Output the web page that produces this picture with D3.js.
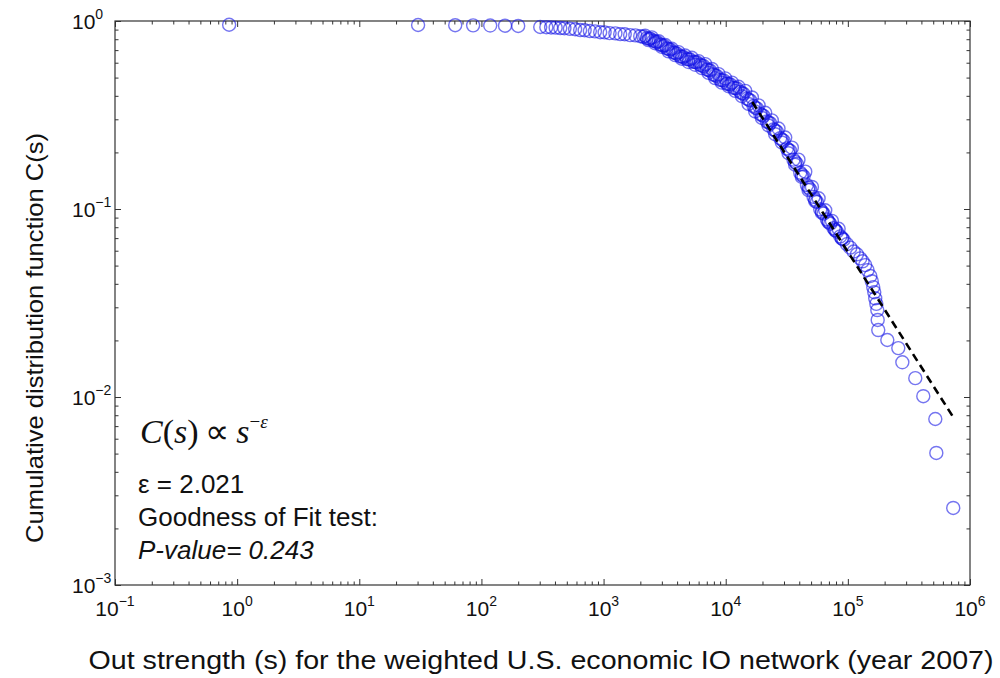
<!DOCTYPE html>
<html><head><meta charset="utf-8">
<script src="https://cdn.jsdelivr.net/npm/d3@7"></script>
<style>
body{margin:0;background:#fff}
svg{display:block}
text{font-family:"Liberation Sans",Arial,Helvetica,sans-serif;fill:#111}
</style>
</head><body>
<svg id="c" width="1000" height="678"></svg>
<script>
// ---- data ----
const strength = [0.86, 30.3, 61, 85.5, 118, 156, 200,
  303, 340, 372, 405, 442, 478, 530, 585, 643, 700, 772, 850, 938, 1020, 1120, 1250, 1368, 1490, 1650, 1820, 1995,
  2120, 2260, 2410, 2560, 2730, 2910, 3100, 3300, 3510, 3740, 3980, 4240, 4500, 4800, 5120, 5450, 5800, 6180,
  6590, 7020, 7460, 7950, 8470, 9020, 9610, 10230, 10890, 11600, 12350, 13150, 14000, 14920, 15880, 16900, 18000,
  19190, 20400, 21700, 23120, 24600, 26200, 27930, 29700, 31700, 33730, 35900, 38200, 40740, 43400, 46200, 49200,
  52400, 55800, 59430, 63300, 67400, 71780, 76400, 81400, 86700, 92300, 98300, 104700, 111500, 118700, 126200,
  132000, 138700, 145000, 152800, 157000, 161400, 164500, 167500, 171000, 174200, 175500, 177400, 210400, 258800,
  279300, 356500, 414600, 520000, 530000, 729000,
  2190, 2330, 2480, 2640, 2820, 3000, 3200, 3400, 3620, 3860, 4100, 4370, 4650, 4960, 5280, 5620, 5990, 6380,
  6800, 7240, 7700, 8200, 8740, 9300, 9900, 10550, 11240, 11970, 12740, 13570, 14450, 15390, 16380, 17440, 18580,
  19780, 21050, 22400, 23850, 25400, 27050, 28800, 30700, 32700, 34800, 37000, 39400, 42000, 44800, 47700, 50800,
  54100, 57600, 61300, 65300, 69500, 74000, 78900, 84000, 89500,
  2350, 2650, 2990, 3400, 3860, 4370, 4960, 5620, 6380, 7240, 8200, 9300, 10550, 11970, 13570, 15390, 17440,
  19780, 22400, 25400, 28800, 32700, 37000, 42000, 47700, 54100, 61300, 69500, 78900, 89500];
const cdf = [0.955, 0.952, 0.950, 0.948, 0.946, 0.944, 0.941,
  0.929, 0.927, 0.924, 0.922, 0.917, 0.915, 0.909, 0.904, 0.895, 0.893, 0.884, 0.881, 0.872, 0.870, 0.862, 0.859, 0.851, 0.850, 0.841, 0.839, 0.830,
  0.824, 0.810, 0.805, 0.785, 0.774, 0.751, 0.740, 0.715, 0.704, 0.680, 0.671, 0.648, 0.644, 0.627, 0.624, 0.606, 0.603, 0.585,
  0.576, 0.552, 0.545, 0.519, 0.510, 0.486, 0.483, 0.464, 0.460, 0.441, 0.438, 0.420, 0.410, 0.387, 0.378, 0.353, 0.343,
  0.320, 0.313, 0.292, 0.286, 0.265, 0.258, 0.238, 0.231, 0.210, 0.204, 0.183, 0.174, 0.156, 0.149, 0.134, 0.127,
  0.116, 0.109, 0.0995, 0.0945, 0.0880, 0.0835, 0.0790, 0.0757, 0.0715, 0.0686, 0.0650, 0.0623, 0.0594, 0.0574, 0.0546,
  0.0527, 0.0503, 0.0473, 0.0440, 0.0413, 0.0384, 0.0361, 0.0335, 0.0313, 0.0290, 0.0257, 0.0227, 0.0201, 0.0182,
  0.0153, 0.0126, 0.0101, 0.00764, 0.00504, 0.00257,
  0.835, 0.792, 0.818, 0.762, 0.781, 0.728, 0.745, 0.690, 0.712, 0.658, 0.683, 0.630, 0.655, 0.605, 0.637, 0.585, 0.612, 0.562,
  0.590, 0.530, 0.556, 0.497, 0.522, 0.470, 0.495, 0.450, 0.470, 0.425, 0.447, 0.398, 0.425, 0.362, 0.392, 0.330, 0.356,
  0.305, 0.325, 0.278, 0.296, 0.250, 0.268, 0.226, 0.240, 0.198, 0.212, 0.172, 0.183, 0.148, 0.158, 0.126, 0.131,
  0.110, 0.114, 0.0955, 0.0985, 0.0850, 0.0865, 0.0770, 0.0785, 0.0695,
  0.806, 0.778, 0.745, 0.711, 0.676, 0.646, 0.625, 0.604, 0.578, 0.547, 0.514, 0.484, 0.462, 0.439, 0.413, 0.382, 0.346,
  0.316, 0.289, 0.262, 0.234, 0.206, 0.178, 0.152, 0.130, 0.112, 0.097, 0.0858, 0.0775, 0.0700];
const fitStrength = [16500, 730000];
const fitCdf = [0.371, 0.0078];
const xTickExponents = [-1, 0, 1, 2, 3, 4, 5, 6];
const yTickExponents = [-3, -2, -1, 0];
const xTitle = "Out strength (s) for the weighted U.S. economic IO network (year 2007)";
const yTitle = "Cumulative distribution function C(s)";
const annoLines = ["\u03B5 = 2.021", "Goodness of Fit test:", "P-value= 0.243"];

// ---- layout ----
const L = 115, R = 970, T = 21, B = 585;
const svg = d3.select("#c");
const x = d3.scaleLog().domain([1e-1, 1e6]).range([L, R]);
const y = d3.scaleLog().domain([1e-3, 1]).range([B, T]);

const sup = e => (e < 0 ? "\u2212" + Math.abs(e) : String(e));

const majX = xTickExponents.map(e => Math.pow(10, e));
const minX = [];
xTickExponents.slice(0, -1).forEach(e => { for (let m = 2; m <= 9; m++) minX.push(m * Math.pow(10, e)); });
const majY = yTickExponents.map(e => Math.pow(10, e));
const minY = [];
yTickExponents.slice(0, -1).forEach(e => { for (let m = 2; m <= 9; m++) minY.push(m * Math.pow(10, e)); });

const axColor = "#333";
function tickAxis(axisFn, scale, vals, size, tx, ty) {
  const g = svg.append("g").attr("transform", `translate(${tx},${ty})`)
    .call(axisFn(scale).tickValues(vals).tickSize(size).tickFormat(""));
  g.select(".domain").remove();
  g.selectAll("line").attr("stroke", axColor).attr("stroke-width", 1);
  g.selectAll("text").remove();
}
tickAxis(d3.axisBottom, x, minX, -3.5, 0, B);
tickAxis(d3.axisBottom, x, majX, -6, 0, B);
tickAxis(d3.axisTop, x, minX, -3.5, 0, T);
tickAxis(d3.axisTop, x, majX, -6, 0, T);
tickAxis(d3.axisLeft, y, minY, -3.5, L, 0);
tickAxis(d3.axisLeft, y, majY, -6, L, 0);
tickAxis(d3.axisRight, y, minY, -3.5, R, 0);
tickAxis(d3.axisRight, y, majY, -6, R, 0);

svg.append("rect").attr("x", L).attr("y", T).attr("width", R - L).attr("height", B - T)
  .attr("fill", "none").attr("stroke", axColor).attr("stroke-width", 1.2);

const xl = svg.append("g").selectAll("text").data(xTickExponents).join("text")
  .attr("x", e => x(Math.pow(10, e))).attr("y", 616)
  .attr("text-anchor", "middle").attr("font-size", 21);
xl.append("tspan").text("10");
xl.append("tspan").attr("dy", -10).attr("font-size", 14).text(e => sup(e));

const yl = svg.append("g").selectAll("text").data(yTickExponents).join("text")
  .attr("x", 72).attr("y", e => y(Math.pow(10, e)) + 8)
  .attr("text-anchor", "start").attr("font-size", 21);
yl.append("tspan").text("10");
yl.append("tspan").attr("dy", -10).attr("font-size", 14).text(e => sup(e));

svg.append("text").attr("x", 541).attr("y", 669).attr("text-anchor", "middle")
  .attr("font-size", 26).attr("textLength", 905).attr("lengthAdjust", "spacingAndGlyphs").text(xTitle);
svg.append("text").attr("transform", "translate(43,338) rotate(-90)").attr("text-anchor", "middle")
  .attr("font-size", 24).attr("textLength", 410).attr("lengthAdjust", "spacingAndGlyphs").text(yTitle);

const pts = strength.map((s, i) => [s, cdf[i]]);
svg.append("g").selectAll("circle").data(pts).join("circle")
  .attr("cx", d => x(d[0])).attr("cy", d => y(d[1])).attr("r", 6.5)
  .attr("fill", "none").attr("stroke", "#1212e6").attr("stroke-opacity", 0.58).attr("stroke-width", 1.4);

const fit = fitStrength.map((s, i) => [s, fitCdf[i]]);
svg.append("path").datum(fit)
  .attr("d", d3.line().x(d => x(d[0])).y(d => y(d[1])))
  .attr("fill", "none").attr("stroke", "#000").attr("stroke-width", 2.6).attr("stroke-dasharray", "8,5");

const f = svg.append("text").attr("x", 140).attr("y", 443)
  .attr("font-size", 34).style("font-family", "'Liberation Serif','Times New Roman',serif");
f.append("tspan").attr("font-style", "italic").text("C");
f.append("tspan").text("(");
f.append("tspan").attr("font-style", "italic").text("s");
f.append("tspan").text(")\u2009\u221D\u2009");
f.append("tspan").attr("font-style", "italic").text("s");
f.append("tspan").attr("dy", -15).attr("font-size", 19).text("\u2212");
f.append("tspan").attr("font-style", "italic").attr("font-size", 19).text("\u03B5");

svg.append("text").attr("x", 138).attr("y", 493).attr("font-size", 26).text(annoLines[0]);
svg.append("text").attr("x", 138).attr("y", 526).attr("font-size", 26).text(annoLines[1]);
svg.append("text").attr("x", 138).attr("y", 559).attr("font-size", 26).attr("font-style", "italic").text(annoLines[2]);
</script>
</body></html>
